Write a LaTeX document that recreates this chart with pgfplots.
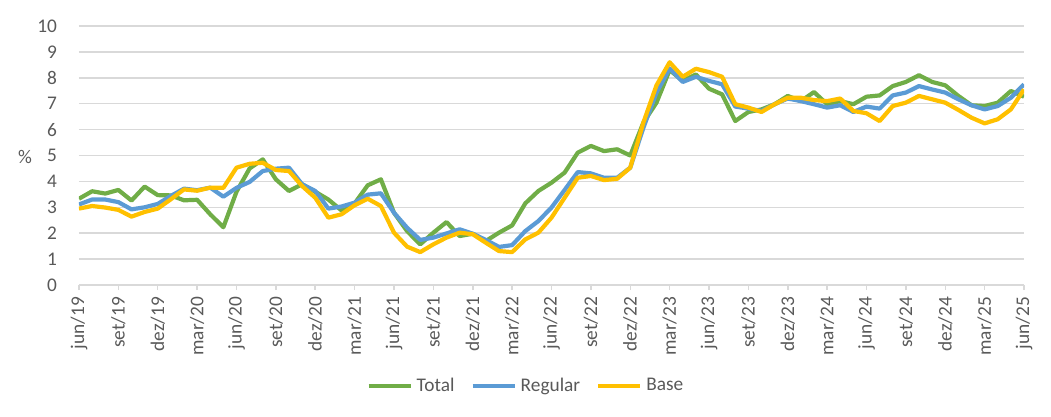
\documentclass[border=0pt]{standalone}
\usepackage{fontspec}
\setmainfont{Carlito}
\usepackage{pgfplots}
\pgfplotsset{compat=1.18}
\usepackage{pgfplotstable}
\definecolor{cTotal}{HTML}{70AD47}
\definecolor{cRegular}{HTML}{5B9BD5}
\definecolor{cBase}{HTML}{FFC000}
\definecolor{tickgray}{HTML}{595959}
\definecolor{gridgray}{HTML}{D9D9D9}
\pgfplotstableread{
i total regular base
0 3.33 3.11 2.95
1 3.62 3.30 3.05
2 3.53 3.30 2.99
3 3.67 3.20 2.90
4 3.26 2.92 2.64
5 3.80 3.00 2.82
6 3.47 3.13 2.95
7 3.46 3.44 3.31
8 3.27 3.72 3.69
9 3.29 3.66 3.64
10 2.73 3.76 3.76
11 2.23 3.41 3.75
12 3.60 3.75 4.53
13 4.50 3.98 4.68
14 4.85 4.40 4.72
15 4.08 4.49 4.44
16 3.63 4.53 4.40
17 3.89 3.89 3.82
18 3.60 3.63 3.37
19 3.30 2.95 2.60
20 2.88 3.03 2.73
21 3.15 3.18 3.08
22 3.85 3.49 3.33
23 4.08 3.54 3.05
24 2.79 2.79 2.02
25 2.08 2.21 1.48
26 1.57 1.74 1.27
27 2.02 1.83 1.57
28 2.43 1.99 1.83
29 1.89 2.15 2.02
30 1.98 1.98 1.96
31 1.70 1.74 1.63
32 2.02 1.47 1.31
33 2.30 1.54 1.27
34 3.15 2.08 1.76
35 3.63 2.47 2.02
36 3.95 2.99 2.60
37 4.34 3.67 3.37
38 5.11 4.36 4.14
39 5.37 4.31 4.21
40 5.17 4.14 4.05
41 5.24 4.14 4.10
42 5.00 4.53 4.53
43 6.27 6.07 6.27
44 7.04 7.43 7.71
45 8.30 8.36 8.60
46 7.88 7.84 8.04
47 8.13 8.04 8.35
48 7.58 7.88 8.22
49 7.36 7.75 8.04
50 6.33 6.89 6.98
51 6.68 6.81 6.85
52 6.78 6.72 6.68
53 6.98 6.98 6.98
54 7.30 7.20 7.23
55 7.10 7.10 7.23
56 7.45 6.98 7.14
57 6.98 6.85 7.10
58 7.10 6.94 7.20
59 6.98 6.68 6.72
60 7.27 6.89 6.63
61 7.32 6.81 6.33
62 7.68 7.32 6.91
63 7.84 7.43 7.04
64 8.10 7.68 7.30
65 7.84 7.55 7.17
66 7.71 7.43 7.04
67 7.30 7.17 6.76
68 6.94 6.94 6.46
69 6.91 6.78 6.24
70 7.04 6.91 6.40
71 7.49 7.23 6.78
72 7.27 7.75 7.55
}\data
\begin{document}
\begin{tikzpicture}
\useasboundingbox (-39.5bp,-66bp) rectangle (486bp,142.5bp);
\begin{axis}[
  scale only axis, width=472.5bp, height=129.5bp,
  xmin=0, xmax=72, ymin=0, ymax=10,
  ytick={0,1,...,10},
  xtick={0,3,...,72},
  xticklabels={jun/19,set/19,dez/19,mar/20,jun/20,set/20,dez/20,mar/21,jun/21,set/21,dez/21,mar/22,jun/22,set/22,dez/22,mar/23,jun/23,set/23,dez/23,mar/24,jun/24,set/24,dez/24,mar/25,jun/25},
  axis x line*=bottom, axis y line*=left,
  y axis line style={draw=none},
  x axis line style={draw=gridgray, line width=0.75bp},
  ymajorgrids, grid style={draw=gridgray, line width=0.75bp},
  tick align=outside,
  xtick style={draw=gridgray, line width=0.75bp},
  ytick style={draw=none},
  major tick length=2.5bp,
  /pgf/number format/assume math mode=true,
  tick label style={font=\fontsize{9.7}{11}\selectfont, text=tickgray},
  yticklabel style={xshift=-5bp},
  xticklabel style={rotate=90, anchor=east},
  ylabel={\%},
  ylabel style={rotate=-90, at={(axis description cs:-0.057,0.494)}, anchor=center,
    font=\fontsize{9.7}{11}\selectfont, text=tickgray},
  legend style={at={(axis description cs:0.474,-0.39)}, anchor=center, draw=none, fill=none,
    font=\fontsize{9.7}{11}\selectfont, text=tickgray,
    /tikz/every even column/.append style={column sep=6bp}},
  legend columns=-1,
  legend image code/.code={\draw[#1] (0bp,0bp) -- (21bp,0bp);},
  every axis plot/.append style={line width=2.1bp, line join=round},
]
\addplot[cTotal, no marks] table[x=i, y=total] {\data};
\addlegendentry{Total}
\addplot[cRegular, no marks] table[x=i, y=regular] {\data};
\addlegendentry{Regular}
\addplot[cBase, no marks] table[x=i, y=base] {\data};
\addlegendentry{Base}
\end{axis}
\end{tikzpicture}
\end{document}
